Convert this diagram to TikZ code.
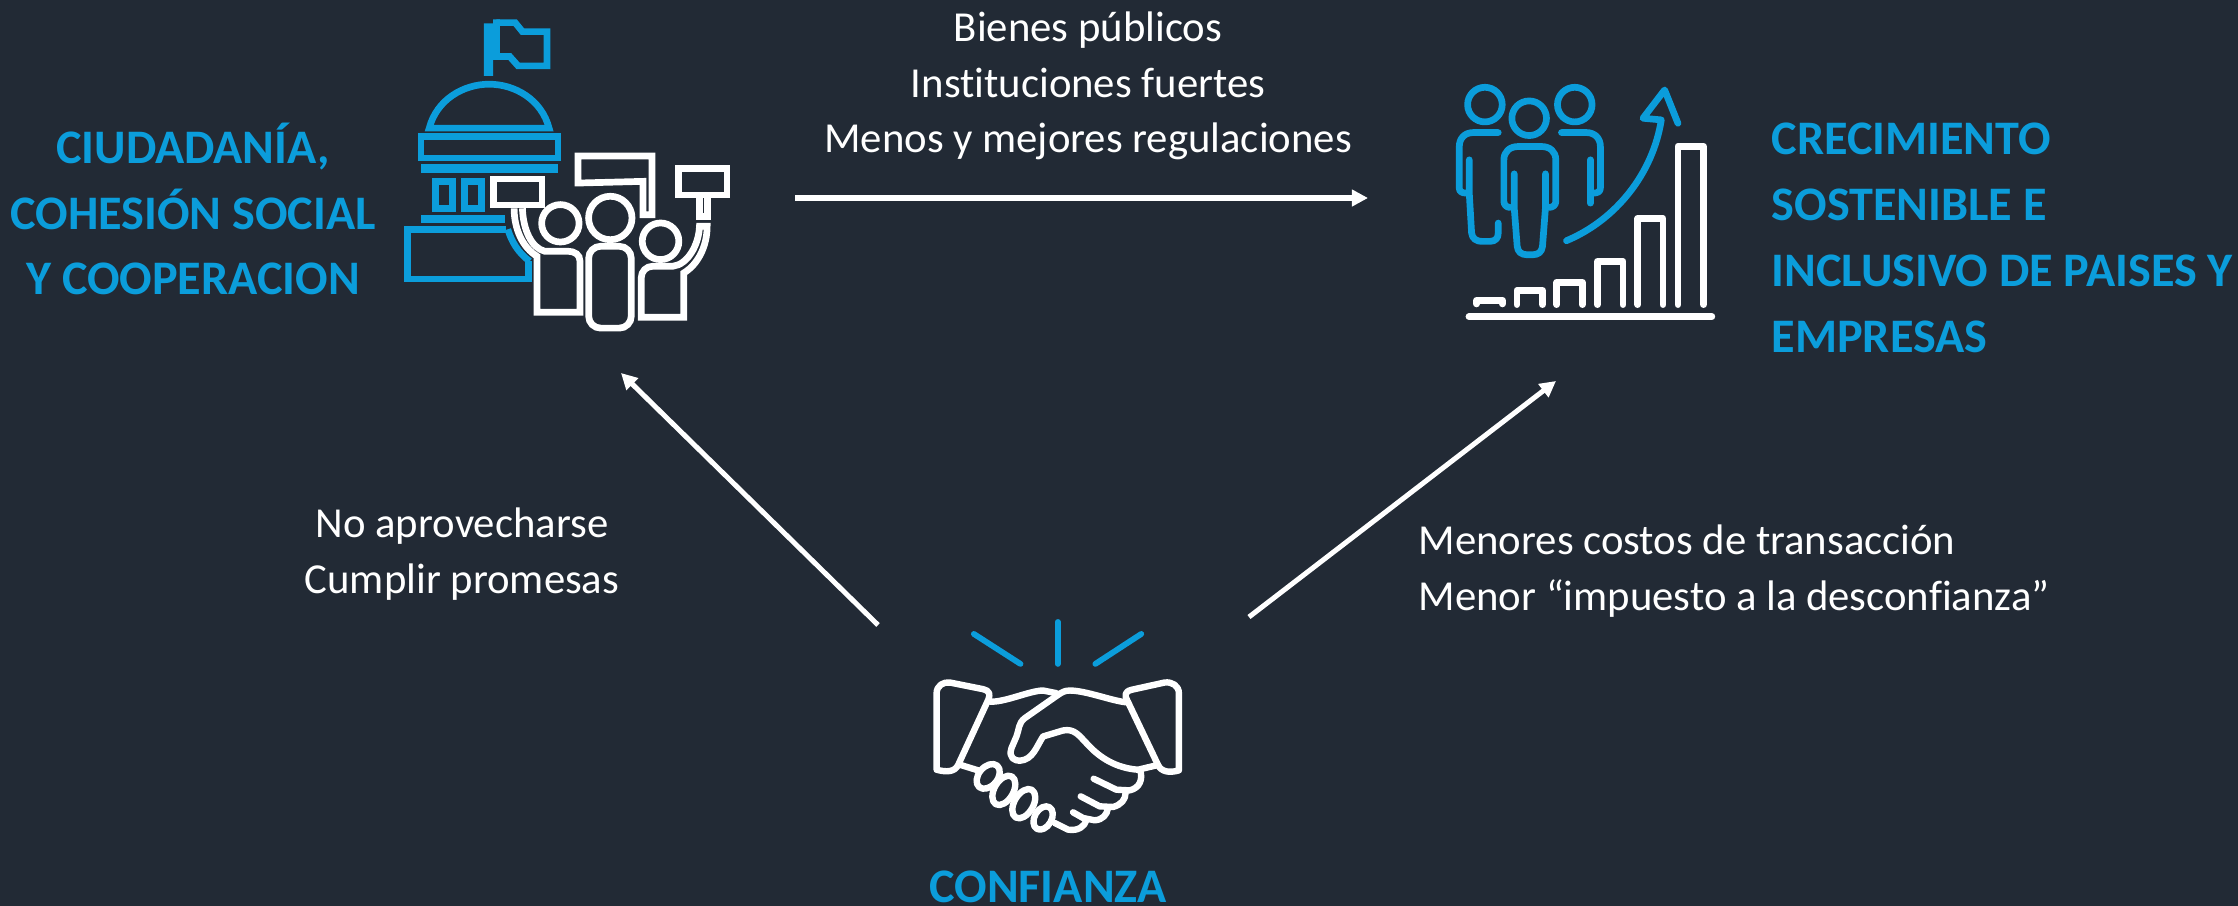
\documentclass[tikz,border=0pt]{standalone}
\usepackage{fontspec}
\setmainfont{Carlito}[Ligatures=CommonOff]
\usetikzlibrary{arrows.meta}

\definecolor{fondo}{HTML}{222A35}
\definecolor{azul}{HTML}{0B9DDB}

\tikzset{
  plain label/.style={text=white,font=\fontsize{12.15}{15.8}\selectfont,inner sep=0pt},
  blue label/.style={text=azul,font=\fontsize{13.7}{18.7}\selectfont\bfseries,inner sep=0pt},
  flecha/.style={white,line width=0.05cm,-{Triangle[length=0.16cm,width=0.16cm]}},
  azulline/.style={azul,line width=0.067cm},
  blancoline/.style={white,line width=0.067cm},
  azulround/.style={azul,line width=0.067cm,line cap=round,line join=round},
  blancoround/.style={white,line width=0.067cm,line cap=round,line join=round},
  manoline/.style={white,line width=0.064cm,line cap=round,line join=round},
  rayoline/.style={azul,line width=0.058cm,line cap=round},
}

\begin{document}
\begin{tikzpicture}[x=0.01cm,y=-0.01cm]
\fill[fondo] (0,0) rectangle (2238,906);
\useasboundingbox (0,0) rectangle (2238,906);

\node[blue label,align=center] (ciudadania) at (193,209) {CIUDADANÍA,\\COHESIÓN SOCIAL\\Y COOPERACION};
\node[blue label,align=left,anchor=west] (crecimiento) at (1771,238) {CRECIMIENTO\\SOSTENIBLE E\\INCLUSIVO DE PAISES Y\\EMPRESAS};
\node[blue label] (confianza) at (1048,887) {CONFIANZA};

\node[plain label,align=center] (bienes) at (1088,86) {Bienes públicos\\Instituciones fuertes\\Menos y mejores regulaciones};
\node[plain label,align=center] (aprovechar) at (462,554) {No aprovecharse\\Cumplir promesas};
\node[plain label,align=left,anchor=west] (costos) at (1418,571) {Menores costos de transacción\\Menor “impuesto a la desconfianza”};

\coordinate (ca) at (795,198);
\coordinate (cb) at (1368,198);
\coordinate (cc) at (878,625);
\coordinate (cd) at (621,373);
\coordinate (ce) at (1249,617);
\coordinate (cf) at (1556,381);

\draw[flecha] (ca) -- (cb);
\draw[flecha] (cc) -- (cd);
\draw[flecha] (ce) -- (cf);

% edificio y personas
\begin{scope}[shift={(380,0)},x=0.003333cm,y=-0.003333cm]
\fill[azul] (312,70) -- (340,70) -- (340,58) -- (360,58) -- (360,180) -- (340,180) -- (340,228) -- (312,228) -- cycle;
\draw[azulline] (350,68) -- (406,68) -- (428,95) -- (502,95) -- (502,198) -- (415,198) -- (390,170) -- (350,170);
\draw[azulline] (148,385) .. controls (170,300) and (250,253) .. (328,253) .. controls (406,253) and (486,300) .. (508,385) -- cycle;
\draw[azulline] (123,411) rectangle (535,475);
\fill[azul] (123,494) rectangle (535,520);
\draw[azulline] (166,545) rectangle (218,627);
\draw[azulline] (254,545) rectangle (306,627);
\fill[azul] (123,645) rectangle (377,671);
\draw[azulline] (380,689) -- (82,689) -- (82,838) -- (446,838) -- (446,785);
\draw[azulline] (384,689) .. controls (395,725) and (415,760) .. (450,785);

\draw[blancoline] (342,538) rectangle (487,616);
\draw[blancoline] (595,469) -- (817,469) -- (817,645) -- (790,645) -- (790,545) -- (595,550) -- cycle;
\draw[blancoline] (897,506) rectangle (1043,586);
\draw[blancoline] (959,586) -- (959,650) -- (984,650) -- (984,586);
\draw[blancoline] (542,671) circle[radius=0.187cm];
\draw[blancoline] (692,655) circle[radius=0.217cm];
\draw[blancoline] (843,725) circle[radius=0.183cm];
\draw[blancoline,rounded corners=0.12cm] (627,986) -- (627,740) -- (755,740) -- (755,986) -- cycle;
\draw[blancoline,line join=miter] (403,626) .. controls (403,690) and (430,745) .. (472,770) -- (472,938) -- (601,938) -- (601,785) .. controls (601,765) and (585,755) .. (565,755) -- (495,755) .. controls (455,745) and (430,690) .. (428,626);
\draw[blancoline] (785,953) -- (785,835) .. controls (785,815) and (800,800) .. (820,800) -- (880,800) .. controls (925,795) and (958,735) .. (960,680) -- (983,680) .. controls (983,740) and (955,795) .. (913,820) -- (913,953) -- cycle;
\end{scope}

% personas y grafico
\begin{scope}[shift={(1430,60)},x=0.003333cm,y=-0.003333cm]
\draw[azulround] (165,134) circle[radius=0.173cm];
\draw[azulround] (435,134) circle[radius=0.173cm];
\draw[azulround] (298,175) circle[radius=0.173cm];
\draw[azulround] (205,218) -- (130,218) .. controls (105,218) and (88,235) .. (88,260) -- (88,385) .. controls (88,395) and (95,400) .. (110,400);
\draw[azulround] (118,300) -- (118,400) -- (125,520) .. controls (127,537) and (140,545) .. (155,545) -- (180,545) .. controls (197,545) and (205,535) .. (205,520) -- (205,490);
\draw[azulround] (395,218) -- (470,218) .. controls (495,218) and (512,235) .. (512,260) -- (512,385) .. controls (512,395) and (505,400) .. (490,400);
\draw[azulround] (482,300) -- (482,430);
\draw[azulround] (240,443) .. controls (230,443) and (222,435) .. (222,425) -- (222,300) .. controls (222,275) and (240,260) .. (265,260) -- (335,260) .. controls (360,260) and (378,275) .. (378,300) -- (378,425) .. controls (378,435) and (370,443) .. (358,443);
\draw[azulround] (253,342) -- (253,443) -- (262,560) .. controls (264,577) and (275,585) .. (290,585) -- (310,585) .. controls (325,585) and (336,577) .. (338,560) -- (347,443) -- (347,342);
\draw[azulround] (410,543) .. controls (560,480) and (670,340) .. (695,180) -- (640,175) -- (705,90) -- (745,190);
\draw[blancoround] (140,733) -- (140,722) -- (218,722) -- (218,733);
\draw[blancoround] (261,735) -- (261,692) -- (338,692) -- (338,735);
\draw[blancoround] (381,735) -- (381,668) -- (458,668) -- (458,735);
\draw[blancoround] (503,735) -- (503,605) -- (580,605) -- (580,735);
\draw[blancoround] (624,735) -- (624,476) -- (700,476) -- (700,735);
\draw[blancoround] (745,735) -- (745,259) -- (822,259) -- (822,735);
\draw[blancoround] (117,771) -- (847,771);
\end{scope}

% manos
\begin{scope}[shift={(900,600)},x=0.003333cm,y=-0.003333cm]
\draw[rayoline] (222,102) -- (362,192);
\draw[rayoline] (474,66) -- (474,192);
\draw[rayoline] (725,102) -- (587,192);
\draw[manoline] (110,510) -- (110,280) .. controls (110,258) and (130,245) .. (150,248) -- (250,268) .. controls (270,272) and (272,285) .. (265,300) -- (175,495) .. controls (165,517) and (140,518) .. (110,510);
\draw[manoline] (838,512) -- (838,280) .. controls (838,258) and (818,245) .. (795,248) -- (695,270) .. controls (675,275) and (675,288) .. (682,300) -- (775,495) .. controls (785,517) and (810,520) .. (838,512);
\draw[manoline] (268,305) .. controls (310,310) and (390,272) .. (430,272) -- (470,280);
\draw[manoline] (686,308) .. controls (640,305) and (560,272) .. (510,272) .. controls (495,272) and (485,278) .. (475,285) -- (375,355) .. controls (355,370) and (358,390) .. (350,410) -- (335,445) .. controls (325,475) and (345,483) .. (360,483) .. controls (400,480) and (410,440) .. (430,410) -- (490,392) .. controls (525,385) and (540,410) .. (560,430) .. controls (600,475) and (650,505) .. (715,510) -- (770,497);
\draw[manoline] (180,495) -- (235,512);
\draw[manoline,shift={(265,530)},rotate=50] (0,0) ellipse[x radius=0.14cm,y radius=0.095cm];
\draw[manoline,shift={(312,572)},rotate=60] (0,0) ellipse[x radius=0.16cm,y radius=0.095cm];
\draw[manoline,shift={(372,612)},rotate=60] (0,0) ellipse[x radius=0.16cm,y radius=0.095cm];
\draw[manoline,shift={(430,655)},rotate=60] (0,0) ellipse[x radius=0.125cm,y radius=0.085cm];
\draw[manoline] (465,670) -- (505,690) .. controls (535,695) and (555,680) .. (560,662);
\draw[manoline] (520,638) -- (550,655) -- (585,662) .. controls (610,660) and (622,645) .. (625,625);
\draw[manoline] (543,590) -- (600,620) -- (640,622) .. controls (665,615) and (678,600) .. (678,578);
\draw[manoline] (582,537) -- (650,570) -- (690,572) .. controls (720,565) and (730,540) .. (722,512);
\end{scope}
\end{tikzpicture}
\end{document}
